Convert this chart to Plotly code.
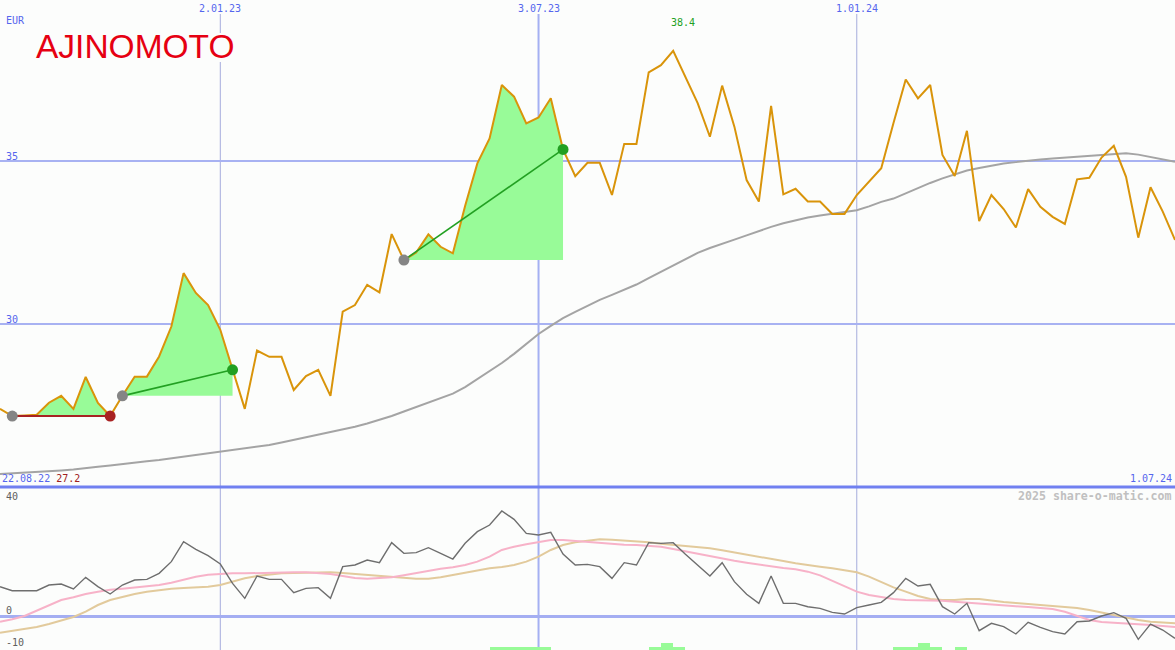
import plotly.graph_objects as go
import pandas as pd

# ---------------- data ----------------
dates = pd.date_range("2022-08-29", periods=97, freq="7D")

price = [
    27.40, 27.18, 27.20, 27.22, 27.59, 27.80, 27.40, 28.38, 27.58, 27.18,
    27.80, 28.39, 28.39, 29.01, 29.93, 31.57, 30.96, 30.59, 29.83, 28.60,
    27.40, 29.19, 29.00, 29.00, 27.98, 28.41, 28.60, 27.80, 30.39, 30.59,
    31.21, 30.98, 32.77, 31.97, 32.20, 32.76, 32.38, 32.18, 33.63, 34.94,
    35.71, 37.35, 36.99, 36.17, 36.35, 36.94, 35.37, 34.55, 34.96, 34.96,
    33.97, 35.54, 35.54, 37.74, 37.96, 38.40, 37.60, 36.79, 35.76, 37.33,
    36.07, 34.43, 33.77, 36.71, 33.99, 34.16, 33.77, 33.77, 33.39, 33.39,
    33.97, 34.38, 34.79, 36.18, 37.52, 36.94, 37.35, 35.20, 34.55, 35.94,
    33.17, 33.97, 33.54, 32.97, 34.15, 33.61, 33.30, 33.08, 34.45, 34.50,
    35.12, 35.48, 34.53, 32.66, 34.21, 33.46, 32.59,
]

ma200 = [
    25.40, 25.42, 25.43, 25.45, 25.47, 25.51, 25.54, 25.59, 25.62, 25.66,
    25.71, 25.74, 25.79, 25.83, 25.88, 25.92, 25.97, 26.02, 26.08, 26.12,
    26.17, 26.23, 26.29, 26.37, 26.45, 26.52, 26.60, 26.68, 26.75, 26.85,
    26.95, 27.06, 27.18, 27.32, 27.46, 27.60, 27.74, 27.87, 28.07, 28.32,
    28.57, 28.81, 29.09, 29.39, 29.70, 29.95, 30.19, 30.38, 30.56, 30.75,
    30.90, 31.05, 31.22, 31.42, 31.61, 31.81, 32.01, 32.19, 32.34, 32.48,
    32.60, 32.73, 32.87, 32.99, 33.10, 33.20, 33.28, 33.34, 33.39, 33.43,
    33.50, 33.62, 33.76, 33.86, 34.02, 34.19, 34.34, 34.48, 34.60, 34.72,
    34.80, 34.88, 34.94, 34.98, 35.03, 35.06, 35.09, 35.12, 35.15, 35.18,
    35.21, 35.23, 35.25, 35.21, 35.14, 35.06, 34.99,
]

momentum = [
    9.10, 7.85, 7.85, 7.85, 9.61, 9.92, 8.37, 11.99, 9.10, 6.82,
    9.61, 11.16, 11.37, 13.23, 16.85, 23.05, 20.67, 18.71, 16.12, 10.13,
    5.48, 12.40, 11.37, 11.37, 7.24, 8.58, 8.79, 5.48, 15.30, 15.81,
    17.36, 16.54, 22.74, 19.43, 19.64, 21.19, 19.43, 17.67, 22.53, 26.15,
    28.22, 32.56, 29.97, 25.63, 25.12, 25.94, 19.22, 15.81, 16.02, 15.30,
    11.68, 16.54, 15.81, 22.74, 22.53, 22.74, 19.12, 15.81, 12.40, 16.54,
    10.65, 6.72, 3.93, 12.40, 3.93, 3.93, 2.89, 2.38, 1.14, 0.62,
    2.58, 3.41, 4.24, 7.24, 11.68, 9.30, 9.82, 2.89, 0.62, 3.93,
    -4.55, -2.27, -3.31, -5.58, -1.96, -3.51, -4.86, -5.58, -1.76, -1.55,
    0.00, 1.03, -0.72, -7.24, -2.48, -4.34, -6.92,
]

mom_fast = [
    -1.76, -1.03, 0.00, 1.65, 3.31, 4.96, 5.79, 6.82, 7.55, 8.17,
    8.47, 8.79, 9.10, 9.61, 10.34, 11.37, 12.20, 12.82, 13.13, 13.23,
    13.23, 13.33, 13.54, 13.64, 13.54, 13.54, 13.33, 13.02, 12.40, 11.78,
    11.58, 11.68, 11.99, 12.61, 13.33, 14.06, 14.68, 15.09, 15.81, 16.85,
    18.40, 20.47, 21.50, 22.22, 22.84, 23.57, 23.57, 23.26, 22.84, 22.53,
    22.22, 22.12, 22.02, 21.81, 21.50, 20.78, 20.05, 19.33, 18.40, 17.67,
    17.16, 16.54, 15.92, 15.30, 14.88, 14.47, 13.75, 12.61, 10.96, 9.10,
    7.55, 6.51, 5.79, 5.27, 4.96, 4.86, 4.96, 4.75, 4.44, 4.13,
    3.82, 3.41, 3.20, 3.00, 2.79, 2.58, 2.17, 1.34, 0.00, -1.24,
    -1.86, -2.17, -2.38, -2.58, -2.79, -3.10, -3.41,
]

mom_slow = [
    -5.17, -4.65, -4.13, -3.41, -2.48, -1.45, -0.31, 1.34, 3.41, 4.96,
    5.99, 6.82, 7.55, 8.06, 8.47, 8.68, 8.79, 9.10, 9.61, 10.65,
    11.68, 12.40, 12.92, 13.23, 13.33, 13.44, 13.44, 13.54, 13.33, 13.02,
    12.71, 12.40, 12.09, 11.78, 11.58, 11.58, 11.99, 12.71, 13.44, 14.26,
    14.78, 15.19, 15.81, 16.85, 18.40, 20.47, 22.02, 22.84, 23.36, 23.77,
    23.67, 23.46, 23.26, 22.84, 22.43, 22.12, 21.81, 21.50, 20.98, 20.36,
    19.74, 19.12, 18.40, 17.67, 17.05, 16.33, 15.71, 15.30, 14.78, 14.26,
    13.54, 12.20, 10.54, 8.89, 7.55, 6.20, 5.27, 4.96, 4.96, 5.27,
    5.27, 4.75, 4.34, 4.03, 3.72, 3.41, 3.10, 2.89, 2.48, 1.86,
    1.03, 0.31, -0.41, -1.24, -1.76, -2.07, -2.27,
]

# trade signals (indices into dates)
signal_start = [1, 10, 33]
signal_end = [9, 19, 46]
signal_result = ["loss", "win", "win"]

# bottom signal bars
bar_index = [40, 41, 42, 43, 44, 53, 54, 55, 73, 74, 75, 76, 78]
bar_level = [1, 1, 1, 1, 1, 1, 2, 1, 1, 1, 2, 1, 1]

grid_jan = ["2023-01-02", "2024-01-01"]
grid_jul = ["2023-07-03"]
top_ticks = ["2023-01-02", "2023-07-03", "2024-01-01"]
top_labels = ["2.01.23", "3.07.23", "1.01.24"]

# ---------------- styling ----------------
W, H = 1175, 650
BG = "#fcfdfc"
BLUE = "#5566ee"
ORANGE = "#d9940a"
GREEN_FILL = "#98fb98"
GREEN = "#22a022"
RED = "#a82222"
MONO = "DejaVu Sans Mono"
split = 1 - 487 / H
LOGO_TOP, LOGO_BOTTOM = 33, 62   # logo box (px from top), hides the first grid line


def py(p):
    return 1 - p / H


fig = go.Figure()

# green gain areas
for s, e in zip(signal_start, signal_end):
    xs = dates[s:e + 1]
    fig.add_trace(go.Scatter(x=xs, y=[price[s]] * len(xs), mode="lines",
                             line=dict(width=0), hoverinfo="skip", showlegend=False))
    fig.add_trace(go.Scatter(x=xs, y=price[s:e + 1], mode="lines", fill="tonexty",
                             fillcolor=GREEN_FILL, line=dict(width=0),
                             hoverinfo="skip", showlegend=False))

# moving average
fig.add_trace(go.Scatter(x=dates, y=ma200, mode="lines",
                         line=dict(color="#a4a4a4", width=2), showlegend=False))
# price
fig.add_trace(go.Scatter(x=dates, y=price, mode="lines",
                         line=dict(color=ORANGE, width=2), showlegend=False))

# signal lines and dots
for s, e, r in zip(signal_start, signal_end, signal_result):
    col = RED if r == "loss" else GREEN
    fig.add_trace(go.Scatter(x=[dates[s], dates[e]], y=[price[s], price[e]], mode="lines",
                             line=dict(color=col, width=2 if r == "loss" else 1.6),
                             showlegend=False))
    fig.add_trace(go.Scatter(x=[dates[s]], y=[price[s]], mode="markers",
                             marker=dict(color="#858585", size=11), showlegend=False))
    fig.add_trace(go.Scatter(x=[dates[e]], y=[price[e]], mode="markers",
                             marker=dict(color=col, size=11), showlegend=False))

# bottom panel
fig.add_trace(go.Bar(x=[dates[i] for i in bar_index], y=bar_level, base=0,
                     width=7 * 24 * 3600 * 1000, offset=0,
                     marker=dict(color=GREEN_FILL, line=dict(width=0)),
                     yaxis="y3", showlegend=False))
fig.add_trace(go.Scatter(x=dates, y=mom_slow, mode="lines", yaxis="y2",
                         line=dict(color="#e2ca9c", width=2), showlegend=False))
fig.add_trace(go.Scatter(x=dates, y=mom_fast, mode="lines", yaxis="y2",
                         line=dict(color="#f7b2c8", width=2), showlegend=False))
fig.add_trace(go.Scatter(x=dates, y=momentum, mode="lines", yaxis="y2",
                         line=dict(color="#6e6e6e", width=1.4), showlegend=False))

shapes = []
for k, d in enumerate(grid_jan):
    segs = [(py(14), py(LOGO_TOP)), (py(LOGO_BOTTOM), 0)] if k == 0 else [(py(14), 0)]
    for a, b in segs:
        shapes.append(dict(type="line", xref="x", yref="paper", x0=d, x1=d, y0=b, y1=a,
                           line=dict(color="#a6acdc", width=1), layer="below"))
for d in grid_jul:
    shapes.append(dict(type="line", xref="x", yref="paper", x0=d, x1=d, y0=0, y1=py(14),
                       line=dict(color="#a4b0f2", width=2), layer="below"))
shapes.append(dict(type="line", xref="paper", yref="paper", x0=0, x1=1, y0=split, y1=split,
                   line=dict(color="#7080f0", width=3), layer="above"))

ann = []


def label(text, x, y, color, anchor="left", size=10, xref="paper", weight="normal", xshift=0):
    ann.append(dict(text=text, x=x, y=y, xref=xref, yref="paper", xanchor=anchor,
                    yanchor="middle", showarrow=False, xshift=xshift,
                    font=dict(family=MONO, size=size, color=color, weight=weight)))


label("EUR", 4 / W, py(20), BLUE)
for d, t in zip(top_ticks, top_labels):
    label(t, d, py(9), BLUE, anchor="center", xref="x")
imax = max(range(len(price)), key=lambda i: price[i])
label(f"{price[imax]:.1f}", dates[imax], py(22), GREEN, anchor="left", xref="x", xshift=-4)
label(f"<span style='color:{BLUE}'>22.08.22</span> <span style='color:#a02020'>{min(price):.1f}</span>",
      0, py(478), BLUE)
label("1.07.24", 1174 / W, py(478), BLUE, anchor="right")
label("35", 4 / W, py(156), BLUE)
label("30", 4 / W, py(319), BLUE)
label("40", 4 / W, py(496), "#606060")
label("0", 4 / W, py(610), "#606060")
label("-10", 4 / W, py(642), "#606060")
label("2025 share-o-matic.com", 1174 / W, py(496), "#c0c0c0", anchor="right", size=11.6,
      weight="bold")
ann.append(dict(text="AJINOMOTO", x=34 / W, y=py(47), xref="paper", yref="paper",
                xanchor="left", yanchor="middle", showarrow=False,
                font=dict(family="Liberation Sans", size=33.5, color="#e60012")))

fig.update_layout(
    width=W, height=H,
    margin=dict(l=0, r=0, t=0, b=0),
    paper_bgcolor=BG, plot_bgcolor=BG,
    showlegend=False,
    bargap=0,
    xaxis=dict(type="date", range=[dates[0], dates[-1]], visible=False, fixedrange=True),
    yaxis=dict(domain=[split, 1], range=[25.0, 39.96], tickvals=[30, 35],
               showticklabels=False, showgrid=True, gridcolor="#a8b2f2", gridwidth=2,
               zeroline=False, showline=False, fixedrange=True),
    yaxis2=dict(domain=[0, split], range=[-10.54, 40], tickvals=[0],
                showticklabels=False, showgrid=True, gridcolor="#a4aef2", gridwidth=2.5,
                zeroline=False, showline=False, fixedrange=True),
    yaxis3=dict(overlaying="y2", range=[0, 50], visible=False, fixedrange=True),
    shapes=shapes,
    annotations=ann,
)

fig.write_html(
    "out.html",
    config={"displayModeBar": False},
    post_script="document.body.style.margin='0px';document.body.style.overflow='hidden';"
                "document.body.style.background='" + BG + "';",
)
